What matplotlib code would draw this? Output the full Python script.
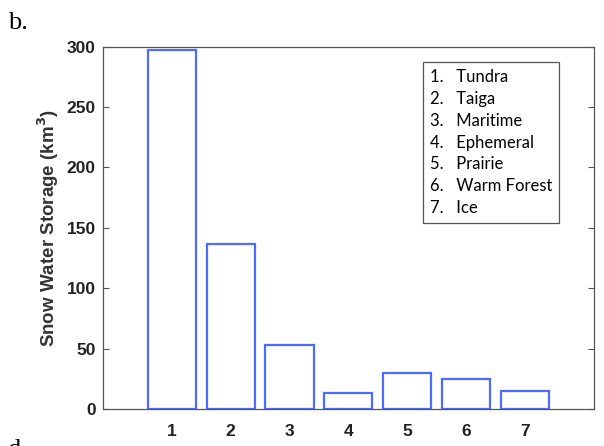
import numpy as np
import matplotlib.pyplot as plt

# Data
regions = ['Tundra', 'Taiga', 'Maritime', 'Ephemeral', 'Prairie', 'Warm Forest', 'Ice']
storage = [297, 137, 53, 13.5, 29.5, 25, 14.5]
positions = np.arange(1, len(regions) + 1)

fig = plt.figure(figsize=(6.04, 4.46), dpi=100)
ax = fig.add_axes([102.5 / 604, 1 - 409 / 446, (594 - 102.5) / 604, (409 - 46.7) / 446])

ax.bar(positions, storage, width=0.82, facecolor='none', edgecolor='#4d6bff', linewidth=1.6)

ax.set_xlim(-0.18, 8.18)
ax.set_ylim(0, 300)
ax.set_xticks(positions)
ax.set_yticks(np.arange(0, 301, 50))

for s in ax.spines.values():
    s.set_color('#555555')
    s.set_linewidth(0.9)

ax.tick_params(axis='y', direction='in', length=4, color='#555555', right=True, width=0.8, pad=5)
ax.tick_params(axis='x', length=0, pad=11)
for lbl in ax.get_xticklabels() + ax.get_yticklabels():
    lbl.set_fontfamily('Liberation Sans')
    lbl.set_fontweight('bold')
    lbl.set_fontsize(12.5)
    lbl.set_color('#222222')

ax.set_ylabel('Snow Water Storage (km$^\\mathbf{3}$)', fontfamily='Liberation Sans',
              fontweight='bold', fontsize=13.5, color='#333333', labelpad=4)

# Legend-like text box
legend_text = '\n'.join(f'{i}.   {name}' for i, name in zip(positions, regions))
fig.text(430 / 604, 1 - 69 / 446, legend_text, ha='left', va='top',
         fontfamily='Lato', fontsize=12, linespacing=1.45, color='black',
         bbox=dict(boxstyle='square,pad=0.42', facecolor='white', edgecolor='#555555', linewidth=0.9))

# Panel labels
fig.text(8 / 604, 1 - 29 / 446, 'b.', fontfamily='Liberation Serif', fontsize=19, ha='left', va='baseline')
fig.text(8 / 604, 1 - 456 / 446, 'd.', fontfamily='Liberation Serif', fontsize=19, ha='left', va='baseline')

fig.savefig('out.png', dpi=100)
